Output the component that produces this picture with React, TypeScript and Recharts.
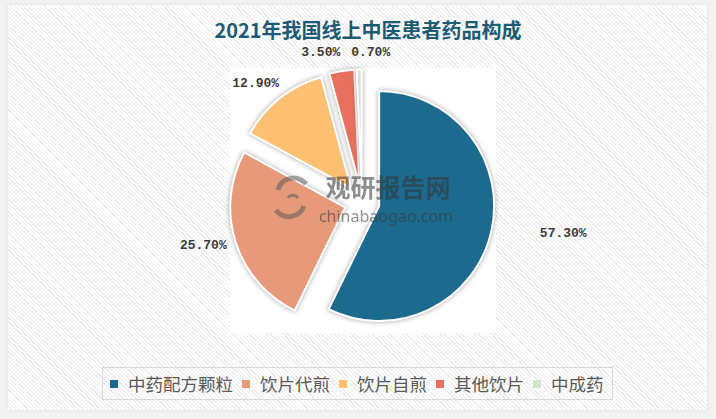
import React from 'react';
import { PieChart, Pie, Cell } from 'recharts';

// 2021年我国线上中医患者药品构成
const categories = ['中药配方颗粒', '饮片代煎', '饮片自煎', '其他饮片', '中成药'];
const shares = [57.3, 25.7, 12.9, 3.5, 0.7];
const colors = ['#1c6b8f', '#e69a7a', '#fec174', '#e8705f', '#d3e3cd'];

const data = categories.map((name, i) => ({ name, value: shares[i] }));

// layout only: explode distance, label distance beyond the rim, label nudges
const CENTER = { x: 362, y: 202 };
const RADIUS = 115;
const EXPLODE = 17.6;
const labelLayout = [
  { extra: 74, dx: 0, dy: -15 },
  { extra: 34, dx: 0, dy: -7 },
  { extra: 26, dx: -8, dy: 6 },
  { extra: 19, dx: -18, dy: 0 },
  { extra: 17, dx: 12, dy: 0 },
];

const RAD = Math.PI / 180;
const total = shares.reduce((a, b) => a + b, 0);
const midAngles = shares.map((v, i) => {
  const before = shares.slice(0, i).reduce((a, b) => a + b, 0);
  return 90 - (360 * (before + v / 2)) / total;
});

const makeLabel = (only: number) => (props: any) => {
  const { cx, cy, midAngle, outerRadius, index } = props;
  if (index !== only) return null;
  const l = labelLayout[index];
  const r = outerRadius + l.extra;
  const x = cx + r * Math.cos(-midAngle * RAD) + l.dx;
  const y = cy + r * Math.sin(-midAngle * RAD) + l.dy;
  return (
    <text
      x={x}
      y={y}
      textAnchor="middle"
      dominantBaseline="central"
      fontFamily="'Liberation Mono', monospace"
      fontSize={13}
      fontWeight="bold"
      fill="#3a3a3a"
    >
      {shares[index].toFixed(2) + '%'}
    </text>
  );
};

const Legend = () => (
  <div
    style={{
      position: 'absolute',
      left: 102,
      top: 367,
      width: 511,
      height: 33,
      border: '1px solid #d9d9d9',
      display: 'flex',
      alignItems: 'center',
      paddingLeft: 7,
      boxSizing: 'border-box',
      fontFamily: "'Noto Sans CJK SC', sans-serif",
      fontSize: 17.5,
      color: '#595959',
      whiteSpace: 'nowrap',
    }}
  >
    {categories.map((c, i) => (
      <div key={c} style={{ display: 'flex', alignItems: 'center', marginRight: 9, flexShrink: 0 }}>
        <span style={{ width: 8, height: 8, background: colors[i], marginRight: 10, display: 'inline-block' }} />
        <span style={{ lineHeight: '22px' }}>{c}</span>
      </div>
    ))}
  </div>
);

const App: React.FC = () => {
  return (
    <div
      style={{
        position: 'absolute',
        left: 0,
        top: 0,
        width: 716,
        height: 419,
        background: '#f2f2f2',
        overflow: 'hidden',
      }}
    >
      <style>{`.recharts-pie-sector path { filter: drop-shadow(0 0 2.5px rgba(0,0,0,0.35)); }`}</style>
      <div
        style={{
          position: 'absolute',
          left: 8,
          top: 5,
          width: 699,
          height: 405,
          background: 'repeating-linear-gradient(45deg, #ffffff 0px, #ffffff 2px, #ececec 2px, #ececec 3px)',
          boxShadow: '0 0 4px rgba(0,0,0,0.08)',
        }}
      />
      <div style={{ position: 'absolute', left: 230, top: 68, width: 266, height: 265, background: '#fff' }} />
      <div
        style={{
          position: 'absolute',
          left: 0,
          top: 16,
          width: 736,
          textAlign: 'center',
          fontFamily: "'Noto Sans CJK SC', sans-serif",
          fontWeight: 'bold',
          fontSize: 20,
          color: '#1d5b75',
          lineHeight: '28px',
        }}
      >
        2021年我国线上中医患者药品构成
      </div>
      <div style={{ position: 'absolute', left: 0, top: 0 }}>
        <PieChart width={716} height={419} margin={{ top: 0, right: 0, bottom: 0, left: 0 }}>
          {data.map((_, k) => (
            <Pie
              key={k}
              data={data}
              dataKey="value"
              nameKey="name"
              cx={CENTER.x + EXPLODE * Math.cos(-midAngles[k] * RAD)}
              cy={CENTER.y + EXPLODE * Math.sin(-midAngles[k] * RAD)}
              outerRadius={RADIUS}
              startAngle={90}
              endAngle={-270}
              isAnimationActive={false}
              labelLine={false}
              label={makeLabel(k)}
            >
              {data.map((d, i) => (
                <Cell
                  key={d.name}
                  fill={i === k ? colors[i] : 'none'}
                  stroke={i === k ? '#ffffff' : 'none'}
                  strokeWidth={2}
                />
              ))}
            </Pie>
          ))}
        </PieChart>
      </div>
      <svg
        width={716}
        height={419}
        style={{ position: 'absolute', left: 0, top: 0, pointerEvents: 'none' }}
      >
        <g opacity={0.5} fill="none" stroke="#555" strokeWidth={5}>
          <path d="M 278 190 A 16 16 0 0 1 306 184" />
          <path d="M 304 206 A 16 16 0 0 1 276 210" />
          <path d="M 288 198 A 6 6 0 0 1 298 198" strokeWidth={3} />
        </g>
        <text
          x={388}
          y={186}
          textAnchor="middle"
          dominantBaseline="central"
          fontFamily="'Noto Sans CJK SC', sans-serif"
          fontWeight="bold"
          fontSize={25}
          fill="#333"
          opacity={0.55}
        >
          观研报告网
        </text>
        <text
          x={386}
          y={216}
          textAnchor="middle"
          dominantBaseline="central"
          fontFamily="'Noto Sans', sans-serif"
          fontSize={16}
          fill="#333"
          opacity={0.55}
        >
          chinabaogao.com
        </text>
      </svg>
      <Legend />
    </div>
  );
};

export default App;
